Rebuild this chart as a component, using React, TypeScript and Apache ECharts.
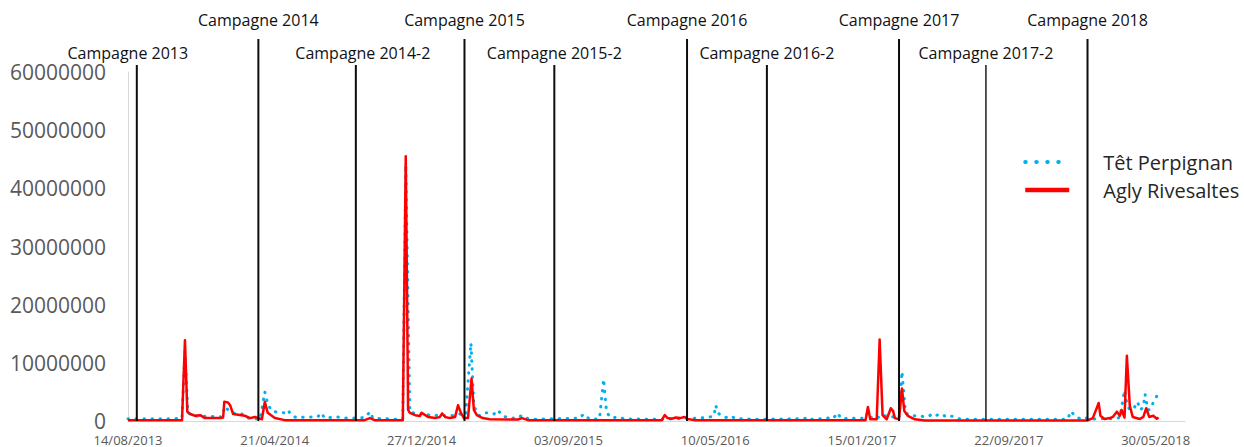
import React, { useEffect, useRef } from 'react';
import * as echarts from 'echarts';

// x values are days elapsed since 14/08/2013
const xTickLabels = ['14/08/2013', '21/04/2014', '27/12/2014', '03/09/2015', '10/05/2016', '15/01/2017', '22/09/2017', '30/05/2018'];
const yTickStep = 10000000;

const campaignNames = ['Campagne 2013', 'Campagne 2014', 'Campagne 2014-2', 'Campagne 2015', 'Campagne 2015-2', 'Campagne 2016', 'Campagne 2016-2', 'Campagne 2017', 'Campagne 2017-2', 'Campagne 2018'];
const campaignDays = [15, 222, 388, 573, 726, 952, 1088, 1313, 1461, 1634];

const tetDays = [0, 37, 80, 92, 97, 102, 109, 123, 139, 160, 165, 174, 187, 196, 204, 216, 225, 233, 238, 245, 255, 267, 272, 279, 289, 301, 323, 329, 335, 356, 369, 395, 405, 412, 417, 455, 468, 473, 480, 497, 506, 514, 531, 545, 557, 565, 575, 584, 589, 594, 599, 608, 616, 623, 630, 637, 650, 664, 671, 678, 693, 769, 776, 786, 803, 810, 815, 824, 834, 846, 906, 974, 991, 998, 1001, 1004, 1011, 1018, 1026, 1035, 1076, 1152, 1157, 1164, 1192, 1197, 1203, 1208, 1215, 1255, 1260, 1267, 1277, 1280, 1299, 1313, 1318, 1324, 1331, 1340, 1348, 1357, 1365, 1370, 1377, 1386, 1393, 1399, 1404, 1413, 1433, 1600, 1606, 1612, 1621, 1629, 1638, 1663, 1680, 1689, 1697, 1701, 1706, 1713, 1719, 1724, 1729, 1732, 1737, 1741, 1746, 1752];
const tetValues = [400000, 400000, 400000, 500000, 12000000, 1500000, 900000, 800000, 800000, 700000, 2500000, 1500000, 1200000, 1200000, 500000, 400000, 300000, 5000000, 2900000, 1700000, 1500000, 1400000, 1900000, 900000, 500000, 700000, 700000, 1400000, 500000, 700000, 500000, 500000, 700000, 1600000, 500000, 300000, 400000, 44000000, 1500000, 1200000, 1400000, 900000, 1000000, 900000, 1000000, 1200000, 1000000, 13400000, 2700000, 1400000, 900000, 1400000, 1400000, 1200000, 1900000, 900000, 500000, 500000, 1000000, 500000, 300000, 500000, 1200000, 300000, 400000, 7200000, 1400000, 500000, 700000, 350000, 300000, 500000, 700000, 900000, 2700000, 1400000, 900000, 600000, 900000, 400000, 300000, 400000, 700000, 300000, 500000, 900000, 700000, 1400000, 400000, 500000, 1500000, 400000, 500000, 1000000, 800000, 500000, 8500000, 1400000, 1000000, 900000, 900000, 700000, 900000, 1300000, 1000000, 1200000, 700000, 900000, 800000, 400000, 300000, 300000, 1700000, 900000, 400000, 600000, 300000, 400000, 400000, 600000, 5300000, 3000000, 1900000, 2200000, 3300000, 1900000, 2400000, 4600000, 1900000, 2000000, 3200000, 4300000];

const aglyDays = [0, 92, 97, 101, 106, 114, 123, 131, 157, 162, 164, 170, 174, 179, 199, 208, 216, 228, 233, 238, 250, 267, 403, 412, 420, 468, 473, 477, 480, 489, 497, 500, 511, 523, 531, 535, 540, 548, 557, 562, 567, 572, 579, 585, 589, 594, 604, 616, 664, 671, 681, 909, 914, 919, 926, 933, 940, 948, 953, 965, 1256, 1260, 1264, 1275, 1280, 1285, 1292, 1299, 1303, 1306, 1313, 1318, 1322, 1328, 1340, 1357, 1634, 1643, 1653, 1656, 1663, 1672, 1677, 1684, 1689, 1692, 1697, 1701, 1706, 1711, 1723, 1729, 1734, 1739, 1746, 1752, 1755];
const aglyValues = [150000, 150000, 13900000, 1600000, 1200000, 900000, 1000000, 500000, 500000, 600000, 3300000, 3200000, 2700000, 1200000, 900000, 500000, 700000, 300000, 3300000, 1400000, 500000, 150000, 150000, 500000, 150000, 150000, 45500000, 1900000, 1400000, 1000000, 850000, 1400000, 700000, 500000, 700000, 1300000, 700000, 500000, 700000, 2700000, 1400000, 500000, 500000, 7300000, 1900000, 1000000, 500000, 300000, 250000, 500000, 150000, 150000, 1000000, 500000, 400000, 600000, 500000, 700000, 350000, 150000, 150000, 2400000, 300000, 300000, 14000000, 1000000, 300000, 2200000, 1700000, 500000, 300000, 5600000, 1700000, 900000, 300000, 100000, 100000, 500000, 3100000, 900000, 350000, 500000, 700000, 1600000, 900000, 1900000, 600000, 11200000, 2600000, 700000, 350000, 700000, 2200000, 700000, 900000, 400000, 600000];

const FONT = '"Open Sans", "Noto Sans", sans-serif';
// small horizontal nudges of some campaign labels (style only)
const labelNudge: Record<number, number> = { 0: -9, 2: 7 };

export default function App() {
  const ref = useRef<HTMLDivElement>(null);
  useEffect(() => {
    if (!ref.current) return;
    const chart = echarts.init(ref.current, undefined, { renderer: 'svg' });
    const tetData = tetDays.map((d, i) => [d, tetValues[i]]);
    const aglyData = aglyDays.map((d, i) => [d, aglyValues[i]]);
    const campaignData = campaignDays.map((d, i) => [d, i]);
    const hiddenSymbol = { color: 'rgba(0,0,0,0)', borderWidth: 0, opacity: 0 };
    chart.setOption({
      animation: false,
      backgroundColor: '#ffffff',
      grid: { left: 128, right: 59, top: 72, bottom: 26, containLabel: false, outerBoundsMode: 'none' },
      legend: {
        data: [
          { name: 'Têt Perpignan', itemStyle: hiddenSymbol, lineStyle: { width: 4, type: [0.5, 10.5], cap: 'round', color: '#00B0F0' } },
          { name: 'Agly Rivesaltes', itemStyle: hiddenSymbol, lineStyle: { width: 4.5, color: '#FF0000' } },
        ],
        orient: 'vertical',
        left: 1018,
        top: 147,
        itemWidth: 44,
        itemHeight: 14,
        itemGap: 8,
        selectedMode: false,
        textStyle: { fontFamily: FONT, fontSize: 20, lineHeight: 20, color: '#262626', padding: [0, 0, 0, 29] },
      },
      xAxis: {
        type: 'value',
        min: 0,
        max: 1800,
        interval: 250,
        axisLine: { show: true, lineStyle: { color: '#D9D9D9', width: 1 } },
        axisTick: { show: false },
        splitLine: { show: false },
        axisLabel: {
          fontFamily: FONT,
          fontSize: 13,
          lineHeight: 13,
          color: '#595959',
          margin: 12,
          showMaxLabel: false,
          formatter: (v: number) => (v % 250 === 0 ? xTickLabels[v / 250] ?? '' : ''),
        },
      },
      yAxis: {
        type: 'value',
        min: 0,
        max: 60000000,
        interval: yTickStep,
        axisLine: { show: true, lineStyle: { color: '#D9D9D9', width: 1 } },
        axisTick: { show: false },
        splitLine: { show: false },
        axisLabel: {
          fontFamily: FONT,
          fontSize: 21,
          lineHeight: 16,
          color: '#595959',
          margin: 22,
          formatter: (v: number) => String(v),
        },
      },
      series: [
        {
          name: 'Têt Perpignan',
          type: 'line',
          data: tetData,
          symbol: 'none',
          z: 2,
          lineStyle: { color: '#00B0F0', width: 3, type: [0.5, 7.5], cap: 'round' },
          itemStyle: { color: '#00B0F0' },
        },
        {
          name: 'Agly Rivesaltes',
          type: 'line',
          data: aglyData,
          symbol: 'none',
          z: 3,
          lineStyle: { color: '#FF0000', width: 2.5, join: 'round' },
          itemStyle: { color: '#FF0000' },
        },
        {
          name: 'campagnes',
          type: 'custom',
          silent: true,
          z: 4,
          clip: false,
          data: campaignData,
          encode: { x: 0, y: 1 },
          renderItem: (params: any, api: any) => {
            const idx = params.dataIndex;
            const pt = api.coord([api.value(0), 0]);
            const top0 = params.coordSys.y;
            const upper = idx % 2 === 1;
            const lineTop = top0 - (upper ? 33 : 7);
            const labelY = top0 - (upper ? 52 : 19);
            return {
              type: 'group',
              children: [
                {
                  type: 'line',
                  shape: { x1: pt[0], y1: lineTop, x2: pt[0], y2: pt[1] },
                  style: { stroke: '#0d0d0d', lineWidth: idx === 8 ? 1.4 : 2 },
                },
                {
                  type: 'text',
                  style: {
                    text: campaignNames[idx],
                    x: pt[0] + (labelNudge[idx] || 0),
                    y: labelY,
                    align: 'center',
                    verticalAlign: 'middle',
                    fontSize: 16,
                    lineHeight: 16,
                    fontFamily: FONT,
                    fill: '#111111',
                  },
                },
              ],
            };
          },
        },
      ],
    });
    return () => chart.dispose();
  }, []);
  return <div ref={ref} style={{ position: 'fixed', left: 0, top: 0, width: 1244, height: 447 }} />;
}
